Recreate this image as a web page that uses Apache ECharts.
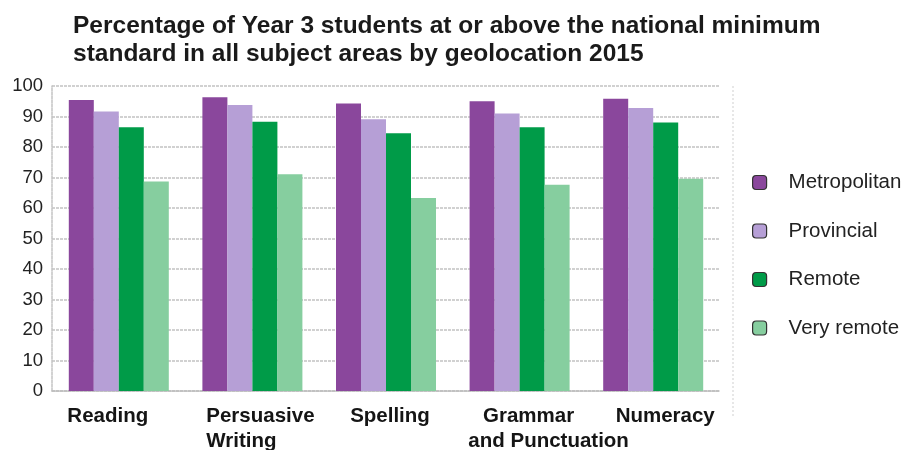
<!DOCTYPE html>
<html>
<head>
<meta charset="utf-8">
<script src="https://cdn.jsdelivr.net/npm/echarts@6/dist/echarts.min.js"></script>
<style>
  html, body { margin: 0; padding: 0; background: #fff; }
  #chart { width: 909px; height: 450px; }
</style>
</head>
<body>
<div id="chart"></div>
<script>
// Subject areas along the x axis
const subjects = ['Reading', 'Persuasive\nWriting', 'Spelling', 'Grammar\nand Punctuation', 'Numeracy'];

// Percent at or above the national minimum standard, per geolocation
const metropolitan = [95.4, 96.3, 94.3, 95.0, 95.8];
const provincial   = [91.6, 93.8, 89.1, 91.0, 92.8];
const remote       = [86.5, 88.3, 84.5, 86.5, 88.0];
const veryRemote   = [68.7, 71.1, 63.3, 67.6, 69.6];

const yTicks = { min: 0, max: 100, interval: 10 };

// Horizontal nudge (px) of each line of each category label
const labelNudge = [[-11], [8, -11], [4], [9, 29], [12]];

const chart = echarts.init(document.getElementById('chart'), null, { renderer: 'canvas' });

const font = 'Liberation Sans, Arial, sans-serif';

const labelFont = {
  fontFamily: font,
  fontSize: 20.5,
  fontWeight: 'bold',
  color: '#151515',
  lineHeight: 25
};

// One rich style per label line; side padding shifts the centred text
const labelRich = {};
labelNudge.forEach((lines, i) => {
  lines.forEach((s, j) => {
    labelRich['s' + i + '_' + j] = Object.assign({}, labelFont, {
      padding: s >= 0 ? [0, 0, 0, 2 * s] : [0, -2 * s, 0, 0]
    });
  });
});

function bar(name, data, color) {
  return {
    name: name,
    type: 'bar',
    data: data,
    barWidth: 25,
    barGap: '0%',
    itemStyle: { color: color },
    emphasis: { disabled: true }
  };
}

chart.setOption({
  animation: false,
  title: {
    text: 'Percentage of Year 3 students at or above the national minimum\nstandard in all subject areas by geolocation 2015',
    left: 68,
    top: 7,
    textStyle: {
      fontFamily: font,
      fontSize: 24.5,
      fontWeight: 'bold',
      color: '#1a1a1a',
      lineHeight: 28
    }
  },
  grid: {
    left: 52, right: 189, top: 86, bottom: 59,
    containLabel: false,
    outerBoundsMode: 'none'
  },
  legend: {
    orient: 'vertical',
    left: 747,
    top: 167,
    itemWidth: 14,
    itemHeight: 14,
    itemGap: 27.5,
    icon: 'roundRect',
    itemStyle: { borderColor: '#333', borderWidth: 1.2 },
    textStyle: { fontFamily: font, fontSize: 20.5, color: '#222', padding: [0, 0, 0, 17] },
    selectedMode: false
  },
  xAxis: {
    type: 'category',
    data: subjects,
    axisLine: { show: true, lineStyle: { color: '#bdbdbd', type: [3, 1], width: 1.5 } },
    axisTick: { show: false },
    axisLabel: Object.assign({}, labelFont, {
      margin: 13,
      interval: 0,
      formatter: (value, index) =>
        value.split('\n').map((line, j) => '{s' + index + '_' + j + '|' + line + '}').join('\n'),
      rich: labelRich
    })
  },
  yAxis: {
    type: 'value',
    min: yTicks.min,
    max: yTicks.max,
    interval: yTicks.interval,
    axisLine: { show: true, lineStyle: { color: '#c4c4c4', type: [3, 1], width: 1.5 } },
    axisTick: { show: false },
    axisLabel: { fontFamily: font, fontSize: 18.5, color: '#222', margin: 9 },
    splitLine: { lineStyle: { color: '#c2c2c2', type: [3, 1], width: 1.5 } }
  },
  graphic: [{
    type: 'line',
    shape: { x1: 733, y1: 86, x2: 733, y2: 418 },
    style: { stroke: '#cfcfcf', lineWidth: 1, lineDash: [2, 2] },
    silent: true
  }],
  series: [
    bar('Metropolitan', metropolitan, '#8a479c'),
    bar('Provincial', provincial, '#b69fd6'),
    bar('Remote', remote, '#009b48'),
    bar('Very remote', veryRemote, '#86ce9f')
  ]
});
</script>
</body>
</html>
